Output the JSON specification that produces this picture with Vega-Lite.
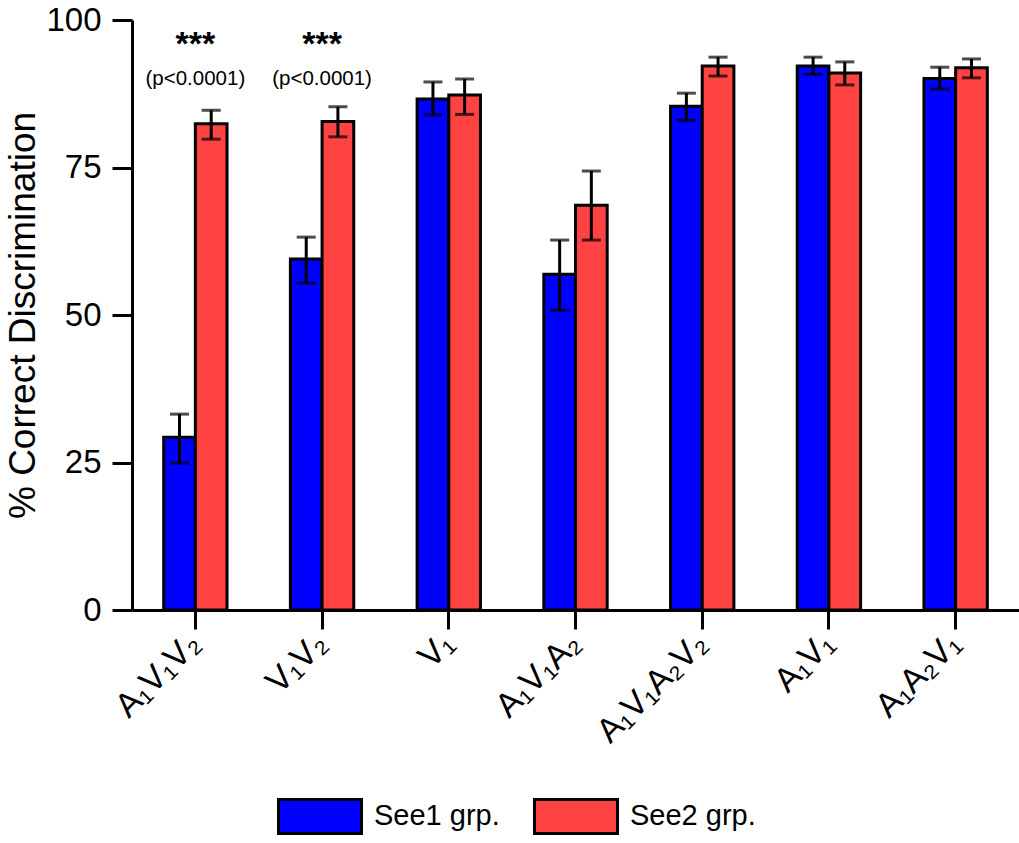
{
  "$schema": "https://vega.github.io/schema/vega-lite/v6.json",
  "autosize": {"type": "none"},
  "padding": {"left": 132, "top": 20, "right": 0, "bottom": 233},
  "width": 887,
  "height": 590,
  "config": {
    "font": "Liberation Sans",
    "view": {"stroke": null},
    "axis": {"domainColor": "black", "domainWidth": 3, "tickColor": "black", "tickWidth": 3, "labelColor": "black", "titleColor": "black", "grid": false}
  },
  "datasets": {
    "bars": [
      {"cond": "A₁V₁V₂", "grp": "See1 grp.", "mean": 29.3, "lo": 24.9, "hi": 33.2},
      {"cond": "A₁V₁V₂", "grp": "See2 grp.", "mean": 82.4, "lo": 79.8, "hi": 84.7},
      {"cond": "V₁V₂", "grp": "See1 grp.", "mean": 59.5, "lo": 55.4, "hi": 63.2},
      {"cond": "V₁V₂", "grp": "See2 grp.", "mean": 82.8, "lo": 80.2, "hi": 85.3},
      {"cond": "V₁", "grp": "See1 grp.", "mean": 86.6, "lo": 83.9, "hi": 89.5},
      {"cond": "V₁", "grp": "See2 grp.", "mean": 87.3, "lo": 84.0, "hi": 90.0},
      {"cond": "A₁V₁A₂", "grp": "See1 grp.", "mean": 56.9, "lo": 50.8, "hi": 62.7},
      {"cond": "A₁V₁A₂", "grp": "See2 grp.", "mean": 68.6, "lo": 62.7, "hi": 74.4},
      {"cond": "A₁V₁A₂V₂", "grp": "See1 grp.", "mean": 85.4, "lo": 83.0, "hi": 87.6},
      {"cond": "A₁V₁A₂V₂", "grp": "See2 grp.", "mean": 92.2, "lo": 90.5, "hi": 93.7},
      {"cond": "A₁V₁", "grp": "See1 grp.", "mean": 92.2, "lo": 90.8, "hi": 93.7},
      {"cond": "A₁V₁", "grp": "See2 grp.", "mean": 91.0, "lo": 89.0, "hi": 92.9},
      {"cond": "A₁A₂V₁", "grp": "See1 grp.", "mean": 90.1, "lo": 88.3, "hi": 92.0},
      {"cond": "A₁A₂V₁", "grp": "See2 grp.", "mean": 91.9, "lo": 90.2, "hi": 93.4}
    ],
    "notes": [
      {"cond": "A₁V₁V₂", "stars": "***", "p": "(p<0.0001)", "ys": 95.8, "yp": 90.0},
      {"cond": "V₁V₂", "stars": "***", "p": "(p<0.0001)", "ys": 95.8, "yp": 90.0}
    ]
  },
  "layer": [
    {
      "data": {"name": "bars"},
      "mark": {"type": "bar", "stroke": "black", "strokeWidth": 3},
      "encoding": {
        "x": {
          "field": "cond", "type": "nominal",
          "sort": ["A₁V₁V₂", "V₁V₂", "V₁", "A₁V₁A₂", "A₁V₁A₂V₂", "A₁V₁", "A₁A₂V₁"],
          "scale": {"paddingInner": 0.5, "paddingOuter": 0.25},
          "axis": {"title": null, "labelAngle": -45, "labelAlign": "right", "labelBaseline": "middle", "labelFontSize": 34, "tickSize": 19, "labelPadding": 9, "domainWidth": 3}
        },
        "xOffset": {"field": "grp", "type": "nominal", "scale": {"paddingInner": 0}},
        "y": {
          "field": "mean", "type": "quantitative",
          "scale": {"domain": [0, 100], "nice": false},
          "axis": {"title": "% Correct Discrimination", "titleFontSize": 37, "titleFontWeight": "normal", "titlePadding": 3, "values": [0, 25, 50, 75, 100], "labelFontSize": 33, "tickSize": 20, "labelPadding": 11}
        },
        "color": {
          "field": "grp", "type": "nominal",
          "scale": {"domain": ["See1 grp.", "See2 grp."], "range": ["#0000FF", "#FF4343"]},
          "legend": {
            "title": null, "orient": "none", "legendX": 145, "legendY": 753, "direction": "horizontal",
            "symbolType": "M-1,-0.41H1V0.41H-1Z", "symbolSize": 6889, "symbolStrokeColor": "black", "symbolStrokeWidth": 3, "symbolOpacity": 1,
            "labelFontSize": 29, "labelColor": "black", "labelOffset": 11, "columnPadding": 28, "labelLimit": 300
          }
        }
      }
    },
    {
      "data": {"name": "bars"},
      "mark": {"type": "rule", "color": "black", "strokeWidth": 3},
      "encoding": {
        "x": {"field": "cond", "type": "nominal", "sort": ["A₁V₁V₂", "V₁V₂", "V₁", "A₁V₁A₂", "A₁V₁A₂V₂", "A₁V₁", "A₁A₂V₁"]},
        "xOffset": {"field": "grp", "type": "nominal"},
        "y": {"field": "lo", "type": "quantitative"},
        "y2": {"field": "hi"}
      }
    },
    {
      "data": {"name": "bars"},
      "mark": {"type": "tick", "color": "black", "thickness": 3, "size": 19, "orient": "horizontal"},
      "encoding": {
        "x": {"field": "cond", "type": "nominal", "sort": ["A₁V₁V₂", "V₁V₂", "V₁", "A₁V₁A₂", "A₁V₁A₂V₂", "A₁V₁", "A₁A₂V₁"]},
        "xOffset": {"field": "grp", "type": "nominal"},
        "y": {"field": "lo", "type": "quantitative"}
      }
    },
    {
      "data": {"name": "bars"},
      "mark": {"type": "tick", "color": "black", "thickness": 3, "size": 19, "orient": "horizontal"},
      "encoding": {
        "x": {"field": "cond", "type": "nominal", "sort": ["A₁V₁V₂", "V₁V₂", "V₁", "A₁V₁A₂", "A₁V₁A₂V₂", "A₁V₁", "A₁A₂V₁"]},
        "xOffset": {"field": "grp", "type": "nominal"},
        "y": {"field": "hi", "type": "quantitative"}
      }
    },
    {
      "data": {"name": "notes"},
      "mark": {"type": "text", "fontSize": 34, "fontWeight": "bold", "color": "black", "baseline": "middle"},
      "encoding": {
        "x": {"field": "cond", "type": "nominal", "sort": ["A₁V₁V₂", "V₁V₂", "V₁", "A₁V₁A₂", "A₁V₁A₂V₂", "A₁V₁", "A₁A₂V₁"]},
        "y": {"field": "ys", "type": "quantitative"},
        "text": {"field": "stars"}
      }
    },
    {
      "data": {"name": "notes"},
      "mark": {"type": "text", "fontSize": 20.5, "color": "black", "baseline": "middle"},
      "encoding": {
        "x": {"field": "cond", "type": "nominal", "sort": ["A₁V₁V₂", "V₁V₂", "V₁", "A₁V₁A₂", "A₁V₁A₂V₂", "A₁V₁", "A₁A₂V₁"]},
        "y": {"field": "yp", "type": "quantitative"},
        "text": {"field": "p"}
      }
    }
  ]
}
